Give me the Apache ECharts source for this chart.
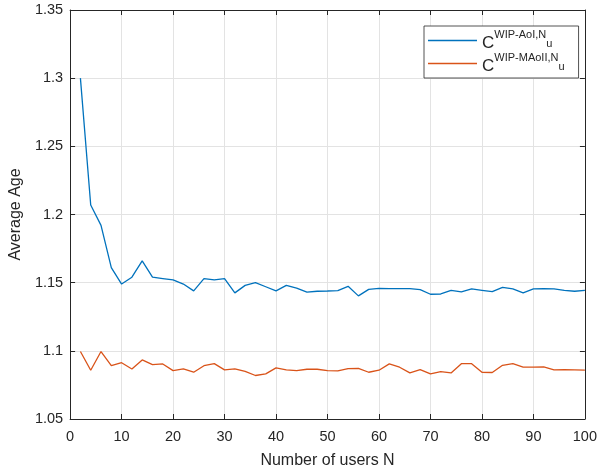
<!DOCTYPE html>
<html>
<head>
<meta charset="utf-8">
<script src="https://cdn.jsdelivr.net/npm/echarts@6/dist/echarts.min.js"></script>
<style>html,body{margin:0;padding:0;background:#fff;}#c{width:600px;height:474px;}</style>
</head>
<body>
<div id="c"></div>
<script>
var usersN = [2,4,6,8,10,12,14,16,18,20,22,24,26,28,30,32,34,36,38,40,42,44,46,48,50,52,54,56,58,60,62,64,66,68,70,72,74,76,78,80,82,84,86,88,90,92,94,96,98,100];
var aoiValues = [1.300,1.207,1.192,1.161,1.149,1.154,1.166,1.154,1.153,1.152,
  1.149,1.144,1.153,1.152,1.153,1.1425,1.148,1.150,1.147,1.144,
  1.148,1.146,1.143,1.1437,1.1439,1.1442,1.1473,1.1403,1.1451,1.1458,
  1.1456,1.1456,1.1456,1.1449,1.1415,1.1417,1.1444,1.1432,1.1454,1.1444,
  1.1434,1.1466,1.1454,1.1425,1.1454,1.1456,1.1454,1.1444,1.1437,1.1444];
var maoiiValues = [1.0995,1.0858,1.0995,1.0891,1.0913,1.0867,1.0933,1.0899,1.0904,1.0855,
  1.0867,1.0843,1.0891,1.0906,1.0860,1.0867,1.0850,1.0819,1.0831,1.0875,
  1.0860,1.0855,1.0865,1.0865,1.0855,1.0853,1.0870,1.0872,1.0843,1.0858,
  1.0904,1.0880,1.0838,1.0862,1.0831,1.0848,1.0838,1.0906,1.0906,1.0843,
  1.0841,1.0894,1.0906,1.0880,1.0880,1.0882,1.0860,1.0862,1.0860,1.0858];
var seriesNames = ['WIP-AoI', 'WIP-MAoII'];
var supTexts = ['WIP-AoI,N', 'WIP-MAoII,N'];
var xTicks = {min: 0, max: 100, interval: 10};
var yTicks = {min: 1.05, max: 1.35, interval: 0.05};
var xName = 'Number of users N';
var yName = 'Average Age';

function pairs(xs, ys){ return xs.map(function(x,i){ return [x, ys[i]]; }); }

var FONT = 'Liberation Sans, Arial, Helvetica, sans-serif';
var axisColor = '#262626';
var chart = echarts.init(document.getElementById('c'), null, {renderer: 'canvas'});
chart.setOption({
  animation: false,
  backgroundColor: '#fff',
  grid: {left: 67, right: 13, top: 10, bottom: 53, containLabel: false},
  legend: {
    orient: 'vertical',
    left: 424, top: 26,
    padding: [3, 14, 3, 4],
    itemGap: 0,
    itemWidth: 49, itemHeight: 1.5,
    icon: 'rect',
    borderColor: axisColor, borderWidth: 0.8,
    backgroundColor: '#fff',
    data: seriesNames,
    formatter: function(name){
      var i = seriesNames.indexOf(name);
      return '{c|C}{sup|' + supTexts[i] + '}{sub|u}';
    },
    textStyle: {
      fontFamily: FONT, color: axisColor, padding: [0,0,0,0],
      rich: {
        c: {fontSize: 17, fontFamily: FONT, color: axisColor, lineHeight: 23, verticalAlign: 'bottom'},
        sup: {fontSize: 11, fontFamily: FONT, color: axisColor, verticalAlign: 'top', lineHeight: 23},
        sub: {fontSize: 11, fontFamily: FONT, color: axisColor, verticalAlign: 'middle', lineHeight: 23, padding: [7,0,0,0]}
      }
    }
  },
  xAxis: [{
    type: 'value', min: xTicks.min, max: xTicks.max, interval: xTicks.interval,
    name: xName, nameLocation: 'middle', nameGap: 34,
    nameTextStyle: {fontSize: 16, fontFamily: FONT, color: axisColor},
    axisLine: {show: true, onZero: false, lineStyle: {color: axisColor, width: 1}},
    axisTick: {show: true, inside: true, length: 5, lineStyle: {color: axisColor}},
    axisLabel: {fontSize: 14.5, fontFamily: FONT, color: axisColor, margin: 10, showMinLabel: true, showMaxLabel: true},
    splitLine: {show: true, lineStyle: {color: '#e3e3e3', width: 1}}
  }, {
    type: 'value', position: 'top', min: xTicks.min, max: xTicks.max, interval: xTicks.interval,
    axisLine: {show: true, onZero: false, lineStyle: {color: axisColor, width: 1}},
    axisTick: {show: true, inside: true, length: 5, lineStyle: {color: axisColor}},
    axisLabel: {show: false}, splitLine: {show: false}
  }],
  yAxis: [{
    type: 'value', min: yTicks.min, max: yTicks.max, interval: yTicks.interval,
    name: yName, nameLocation: 'middle', nameGap: 44, nameRotate: 90,
    nameTextStyle: {fontSize: 16, fontFamily: FONT, color: axisColor},
    axisLine: {show: true, onZero: false, lineStyle: {color: axisColor, width: 1}},
    axisTick: {show: true, inside: true, length: 5, lineStyle: {color: axisColor}},
    axisLabel: {fontSize: 14.5, fontFamily: FONT, color: axisColor, margin: 7,
      formatter: function(v){ return String(+v.toFixed(2)); }},
    splitLine: {show: true, lineStyle: {color: '#e3e3e3', width: 1}}
  }, {
    type: 'value', position: 'right', min: yTicks.min, max: yTicks.max, interval: yTicks.interval,
    axisLine: {show: true, onZero: false, lineStyle: {color: axisColor, width: 1}},
    axisTick: {show: true, inside: true, length: 5, lineStyle: {color: axisColor}},
    axisLabel: {show: false}, splitLine: {show: false}
  }],
  series: [{
    name: seriesNames[0], type: 'line', xAxisIndex: 0, yAxisIndex: 0,
    data: pairs(usersN, aoiValues), showSymbol: false, symbol: 'none',
    lineStyle: {color: '#0072BD', width: 1.3}, itemStyle: {color: '#0072BD'}
  }, {
    name: seriesNames[1], type: 'line', xAxisIndex: 0, yAxisIndex: 0,
    data: pairs(usersN, maoiiValues), showSymbol: false, symbol: 'none',
    lineStyle: {color: '#D95319', width: 1.3}, itemStyle: {color: '#D95319'}
  }]
});
</script>
</body>
</html>
